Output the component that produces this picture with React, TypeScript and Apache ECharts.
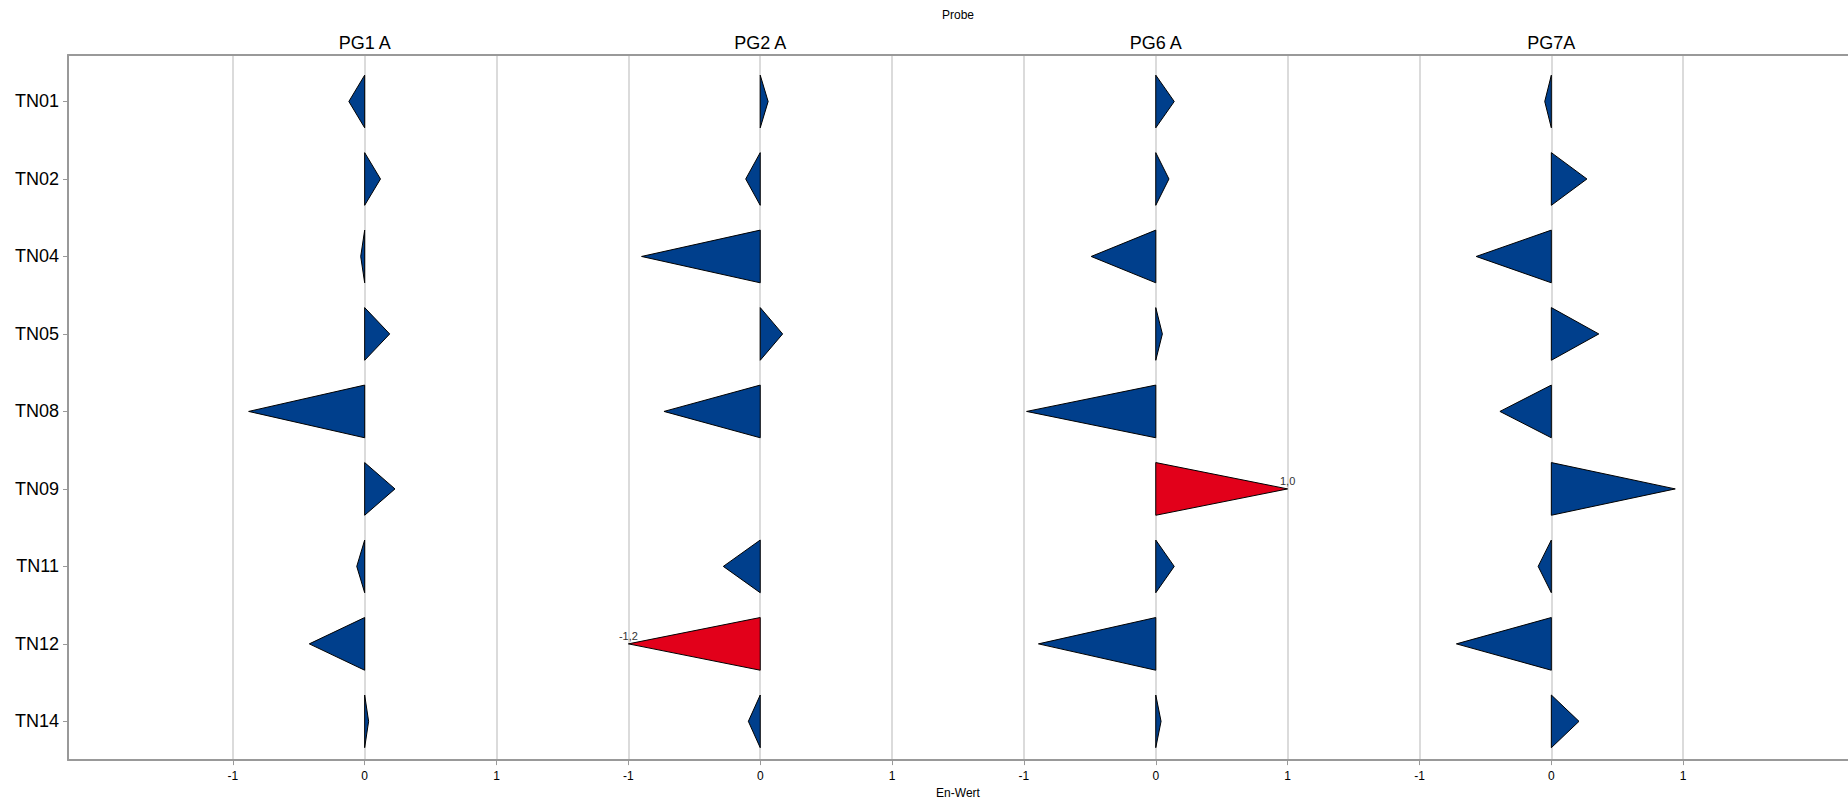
import React, { useEffect, useRef } from "react";
import * as echarts from "echarts";

const rows = ["TN01", "TN02", "TN04", "TN05", "TN08", "TN09", "TN11", "TN12", "TN14"];
const panels = ["PG1 A", "PG2 A", "PG6 A", "PG7A"];
const pg1 = [-0.12, 0.12, -0.03, 0.19, -0.88, 0.23, -0.06, -0.42, 0.03];
const pg2 = [0.06, -0.11, -0.9, 0.17, -0.73, null, -0.28, -1.2, -0.09];
const pg6 = [0.14, 0.1, -0.49, 0.05, -0.98, 1.0, 0.14, -0.89, 0.04];
const pg7 = [-0.05, 0.27, -0.57, 0.36, -0.39, 0.94, -0.1, -0.72, 0.21];
const panelValues = [pg1, pg2, pg6, pg7];
const xTicks = [-1, 0, 1, 2, 3, 4, 5, 6, 7, 8, 9, 10];
const panelCenters = [0, 3, 6, 9];
const rowTicks = [0, 1, 2, 3, 4, 5, 6, 7, 8];

const BLUE = "#003f8c";
const RED = "#e2001a";
const FONT = "'Liberation Sans', Arial, sans-serif";
const HALF = 0.34;

export default function App() {
  const ref = useRef<HTMLDivElement>(null);
  useEffect(() => {
    if (!ref.current) return;
    const chart = echarts.init(ref.current, null, { renderer: "svg" });
    const data: any[] = [];
    panelValues.forEach((vals, p) => {
      vals.forEach((v, r) => {
        if (v !== null && v !== undefined) data.push([p, r, v]);
      });
    });
    const fmt = (v: number) => v.toFixed(1).replace(".", ",");
    chart.setOption({
      animation: false,
      textStyle: { fontFamily: FONT },
      grid: { left: 68, top: 55, width: 1786, height: 709, containLabel: false },
      xAxis: [
        {
          type: "value",
          position: "bottom",
          min: -2.25,
          max: 11.25,
          axisLine: { show: true, onZero: false, lineStyle: { color: "#999", width: 2 } },
          axisTick: { show: true, customValues: xTicks, length: 5, lineStyle: { color: "#999" } },
          axisLabel: {
            customValues: xTicks,
            formatter: (v: number) => String(v - 3 * Math.round(v / 3)),
            fontSize: 12,
            color: "#000",
            margin: 10,
            fontFamily: FONT,
          },
          splitLine: { show: true, lineStyle: { color: "#cfcfcf", width: 1.5 } },
          name: "En-Wert",
          nameLocation: "middle",
          nameGap: 26,
          nameTextStyle: { fontSize: 12, color: "#000", fontFamily: FONT },
        },
        {
          type: "value",
          position: "top",
          min: -2.25,
          max: 11.25,
          axisLine: { show: true, onZero: false, lineStyle: { color: "#999", width: 2 } },
          axisTick: { show: false },
          axisLabel: {
            customValues: panelCenters,
            formatter: (v: number) => panels[Math.round(v / 3)],
            fontSize: 18,
            color: "#000",
            margin: 3,
            fontFamily: FONT,
          },
          splitLine: { show: false },
          name: "Probe",
          nameLocation: "middle",
          nameGap: 34,
          nameTextStyle: { fontSize: 12, color: "#000", fontFamily: FONT },
        },
      ],
      yAxis: {
        type: "value",
        inverse: true,
        min: -0.6,
        max: 8.5,
        axisLine: { show: true, onZero: false, lineStyle: { color: "#999", width: 2 } },
        axisTick: { show: true, customValues: rowTicks, length: 5, lineStyle: { color: "#999" } },
        axisLabel: {
          customValues: rowTicks,
          formatter: (v: number) => rows[Math.round(v)],
          fontSize: 18,
          color: "#000",
          margin: 9,
          fontFamily: FONT,
        },
        splitLine: { show: false },
      },
      series: [
        {
          type: "custom",
          xAxisIndex: 0,
          yAxisIndex: 0,
          data,
          clip: false,
          renderItem: (params: any, api: any) => {
            const p = api.value(0);
            const r = api.value(1);
            const v = api.value(2);
            const d = Math.max(-1, Math.min(1, v));
            const base = p * 3;
            const top = api.coord([base, r - HALF]);
            const bot = api.coord([base, r + HALF]);
            const tip = api.coord([base + d, r]);
            const red = Math.abs(v) >= 1;
            const children: any[] = [
              {
                type: "polygon",
                shape: { points: [top, tip, bot] },
                style: { fill: red ? RED : BLUE, stroke: "#000", lineWidth: 1 },
              },
            ];
            if (red) {
              children.push({
                type: "text",
                x: tip[0],
                y: tip[1] - 2,
                style: {
                  text: fmt(v),
                  textAlign: "center",
                  textVerticalAlign: "bottom",
                  align: "center",
                  verticalAlign: "bottom",
                  fontSize: 11,
                  fontFamily: FONT,
                  fill: "#333",
                },
              });
            }
            return { type: "group", children };
          },
        },
      ],
    });
    return () => chart.dispose();
  }, []);
  return (
    <div
      ref={ref}
      style={{ position: "fixed", left: 0, top: 0, width: 1848, height: 804, background: "#fff" }}
    />
  );
}
